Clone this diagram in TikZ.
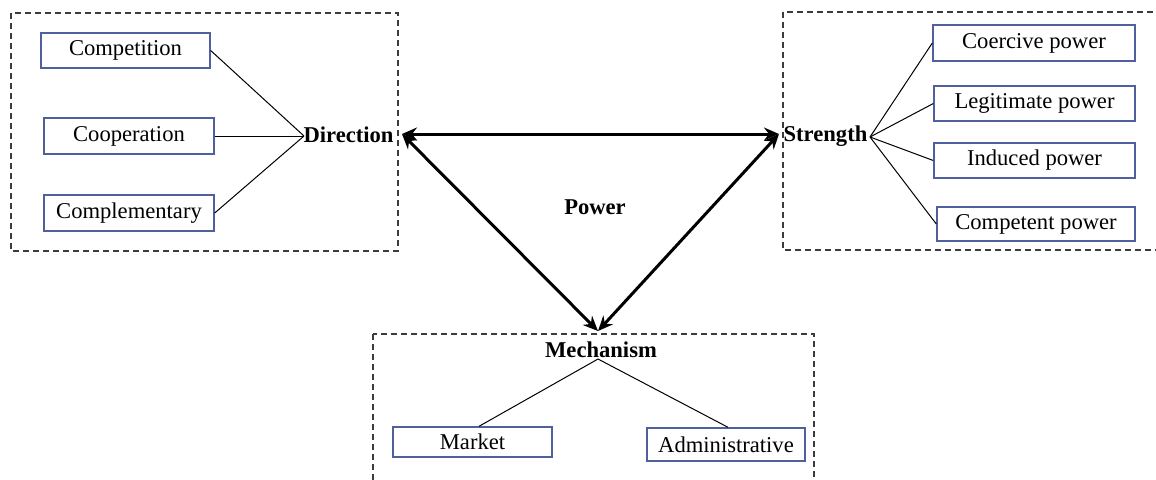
\documentclass[tikz,border=0pt]{standalone}
\usepackage{fontspec}
\setmainfont{Liberation Serif}
\usetikzlibrary{arrows.meta,calc}
\definecolor{boxblue}{RGB}{80,95,160}
\definecolor{dashgray}{RGB}{60,60,60}
\tikzset{
  item/.style={draw=boxblue, line width=0.7pt, inner sep=0pt, align=center, font=\fontsize{11.3pt}{13pt}\selectfont},
  lbl/.style={inner sep=0pt, font=\fontsize{11.3pt}{13pt}\selectfont\bfseries},
  grp/.style={draw=dashgray, line width=0.75pt, dash pattern=on 3pt off 2pt},
  link/.style={draw=black, line width=0.5pt},
  dbl/.style={draw=black, line width=1.5pt, {Stealth[length=7.5pt,width=6.5pt,inset=2.5pt]}-{Stealth[length=7.5pt,width=6.5pt,inset=2.5pt]}}
}
\begin{document}
\begin{tikzpicture}[x=0.5pt,y=-0.5pt]
\useasboundingbox (0,0) rectangle (1156,479);
\clip (0,0) rectangle (1156,479);
% group frames
\draw[grp] (11,13) rectangle (398,251);
\draw[grp] (783,12) rectangle (1170,250);
\draw[grp] (373,334) rectangle (814,500);
% labels
\node[lbl] (dir) at (348.5,135) {Direction};
\node[lbl] (str) at (825.5,136) {Strength};
\node[lbl] (mech) at (601,350) {Mechanism};
\node[lbl] (pow) at (595,207) {Power};
% left items
\node[item, minimum width=84.5pt, minimum height=17.5pt] (comp) at (125.5,50.5) {Competition};
\node[item, minimum width=85pt, minimum height=18pt] (coop) at (129,136) {Cooperation};
\node[item, minimum width=85pt, minimum height=18pt] (cmpl) at (129,213) {Complementary};
% right items
\node[item, minimum width=101pt, minimum height=18pt] (coer) at (1034,43) {Coercive power};
\node[item, minimum width=100.5pt, minimum height=17.5pt] (legi) at (1034.5,103.5) {Legitimate power};
\node[item, minimum width=100.5pt, minimum height=17.5pt] (indu) at (1034.5,160.5) {Induced power};
\node[item, minimum width=99pt, minimum height=17pt] (cmpt) at (1036,224) {Competent power};
% bottom items
\node[item, minimum width=79.5pt, minimum height=15pt] (mark) at (472.5,442) {Market};
\node[item, minimum width=79pt, minimum height=16.5pt] (admi) at (726,444.5) {Administrative};
% thin links
\coordinate (dj) at (304,136);
\coordinate (sj) at (870,137);
\coordinate (mj) at (598,359);
\draw[link] (comp.east) -- (dj);
\draw[link] (coop.east) -- (dj);
\draw[link] (cmpl.east) -- (dj);
\draw[link] (sj) -- (coer.west);
\draw[link] (sj) -- (legi.west);
\draw[link] (sj) -- (indu.west);
\draw[link] (sj) -- (cmpt.west);
\draw[link] (mj) -- ($(mark.north)+(6.5,0)$);
\draw[link] (mj) -- ($(admi.north)+(2,0)$);
% thick double arrows
\coordinate (dA) at (402,134);
\coordinate (sA) at (779,134);
\coordinate (mA) at (598,331);
\draw[dbl] (dA) -- (sA);
\draw[dbl] (dA) -- (mA);
\draw[dbl] (sA) -- (mA);
\end{tikzpicture}
\end{document}
